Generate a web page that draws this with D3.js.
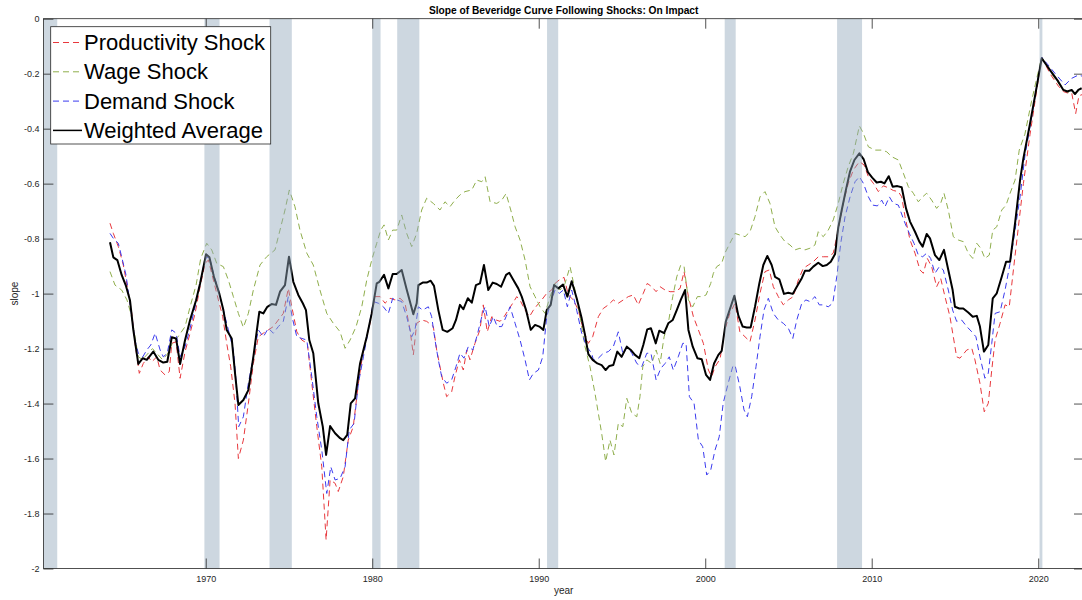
<!DOCTYPE html>
<html>
<head>
<meta charset="utf-8">
<script src="https://cdn.jsdelivr.net/npm/d3@7"></script>
<style>
  body { margin: 0; background: #fff; }
  svg { display: block; font-family: "Liberation Sans", Arial, Helvetica, sans-serif; }
</style>
</head>
<body>
<svg id="chart" width="1082" height="600"></svg>
<script>
// NBER recession periods (start, end) in fractional years
const recessions = [
  [1960.25, 1961.08], [1969.92, 1970.83], [1973.83, 1975.17], [1980.0, 1980.5],
  [1981.5, 1982.83], [1990.5, 1991.17], [2001.17, 2001.83], [2007.92, 2009.42],
  [2020.08, 2020.25]
];

// Slope of the Beveridge curve on impact, [year, slope]
const productivityShock = [
  [1964.25,-0.744],[1964.45,-0.781],[1964.75,-0.829],[1965.05,-0.896],[1965.29,-0.975],[1965.56,-1.072],
  [1965.75,-1.181],[1966.01,-1.29],[1966.25,-1.254],[1966.55,-1.23],[1966.76,-1.248],[1967.06,-1.23],
  [1967.26,-1.278],[1967.56,-1.296],[1967.81,-1.284],[1967.96,-1.181],[1968.22,-1.175],[1968.46,-1.308],
  [1968.76,-1.211],[1969.06,-1.144],[1969.36,-1.072],[1969.66,-0.975],[1969.96,-0.89],[1970.16,-0.878],
  [1970.46,-0.951],[1970.76,-1.023],[1971.02,-1.084],[1971.26,-1.181],[1971.5,-1.266],[1971.76,-1.4],
  [1971.96,-1.6],[1972.26,-1.533],[1972.56,-1.4],[1972.86,-1.254],[1973.16,-1.157],[1973.46,-1.144],
  [1973.76,-1.132],[1974.06,-1.12],[1974.36,-1.096],[1974.66,-1.072],[1974.96,-0.981],[1975.17,-1.048],
  [1975.47,-1.139],[1975.77,-1.169],[1976.1,-1.181],[1976.37,-1.326],[1976.67,-1.484],[1976.97,-1.63],
  [1977.23,-1.896],[1977.47,-1.678],[1977.77,-1.69],[1977.96,-1.72],[1978.26,-1.666],[1978.56,-1.533],
  [1978.86,-1.484],[1979.17,-1.326],[1979.47,-1.205],[1979.87,-1.108],[1980.17,-1.011],[1980.47,-1.011],
  [1980.77,-1.035],[1981.07,-1.017],[1981.37,-1.023],[1981.67,-1.017],[1981.97,-1.035],[1982.27,-1.132],
  [1982.47,-1.223],[1982.67,-1.108],[1982.97,-1.096],[1983.27,-1.101],[1983.67,-1.12],[1983.87,-1.205],
  [1984.07,-1.266],[1984.27,-1.326],[1984.47,-1.375],[1984.77,-1.357],[1984.97,-1.302],[1985.23,-1.241],
  [1985.47,-1.278],[1985.68,-1.205],[1985.87,-1.241],[1986.17,-1.181],[1986.47,-1.132],[1986.67,-1.041],
  [1986.91,-1.139],[1987.18,-1.084],[1987.44,-1.096],[1987.68,-1.101],[1987.92,-1.084],[1988.17,-1.06],
  [1988.44,-1.035],[1988.68,-1.011],[1988.92,-1.029],[1989.18,-1.06],[1989.44,-1.084],[1989.68,-1.06],
  [1989.92,-1.041],[1990.18,-1.023],[1990.48,-0.999],[1990.78,-0.987],[1990.98,-0.963],[1991.28,-0.948],
  [1991.52,-0.941],[1991.78,-1.005],[1992.08,-1.023],[1992.38,-1.06],[1992.68,-1.132],[1992.98,-1.181],
  [1993.24,-1.157],[1993.58,-1.084],[1993.88,-1.054],[1994.18,-1.041],[1994.48,-1.023],[1994.78,-1.035],
  [1995.08,-1.023],[1995.38,-1.011],[1995.68,-1.005],[1995.98,-1.041],[1996.28,-0.999],[1996.52,-0.963],
  [1996.79,-0.975],[1997.05,-0.993],[1997.29,-0.975],[1997.59,-0.987],[1997.89,-0.993],[1998.19,-0.993],
  [1998.49,-0.981],[1998.73,-0.92],[1998.99,-1.011],[1999.29,-1.084],[1999.59,-1.132],[1999.89,-1.181],
  [2000.19,-1.278],[2000.39,-1.302],[2000.59,-1.266],[2000.89,-1.238],[2001.18,-1.132],[2001.48,-1.072],
  [2001.79,-1.035],[2002.08,-1.139],[2002.39,-1.157],[2002.69,-1.175],[2002.99,-1.096],[2003.29,-0.999],
  [2003.59,-0.92],[2003.85,-0.914],[2004.09,-0.975],[2004.39,-1.011],[2004.69,-1.041],[2004.99,-1.023],
  [2005.29,-1.011],[2005.59,-0.951],[2005.89,-0.908],[2006.19,-0.896],[2006.49,-0.884],[2006.79,-0.866],
  [2007.09,-0.866],[2007.39,-0.866],[2007.69,-0.853],[2007.99,-0.769],[2008.29,-0.672],[2008.59,-0.599],
  [2008.9,-0.55],[2009.26,-0.52],[2009.54,-0.532],[2009.8,-0.575],[2010.1,-0.599],[2010.4,-0.629],
  [2010.7,-0.608],[2011.0,-0.615],[2011.3,-0.625],[2011.6,-0.629],[2011.8,-0.648],[2012.0,-0.72],
  [2012.3,-0.805],[2012.6,-0.853],[2012.9,-0.914],[2013.1,-0.926],[2013.34,-0.872],[2013.6,-0.902],
  [2013.9,-0.975],[2014.14,-0.944],[2014.4,-1.011],[2014.7,-1.084],[2014.9,-1.157],[2015.1,-1.23],
  [2015.3,-1.235],[2015.71,-1.205],[2016.01,-1.199],[2016.2,-1.241],[2016.5,-1.326],[2016.76,-1.43],
  [2017.0,-1.399],[2017.21,-1.278],[2017.41,-1.169],[2017.71,-1.108],[2018.01,-1.041],[2018.26,-1.048],
  [2018.51,-0.914],[2018.81,-0.757],[2019.11,-0.6],[2019.51,-0.42],[2019.91,-0.26],[2020.21,-0.14],
  [2020.71,-0.2],[2021.21,-0.245],[2021.51,-0.265],[2021.75,-0.27],[2022.01,-0.27],[2022.25,-0.345],
  [2022.45,-0.28],[2022.7,-0.275]
];

const wageShock = [
  [1964.25,-0.92],[1964.55,-0.969],[1964.95,-0.987],[1965.27,-1.023],[1965.5,-1.072],[1965.65,-1.12],
  [1965.95,-1.23],[1966.2,-1.24],[1966.5,-1.22],[1966.8,-1.2],[1967.1,-1.22],[1967.4,-1.24],
  [1967.7,-1.22],[1968.0,-1.18],[1968.3,-1.16],[1968.76,-1.12],[1969.06,-1.048],[1969.42,-0.969],
  [1969.7,-0.872],[1970.06,-0.817],[1970.36,-0.841],[1970.66,-0.89],[1971.06,-0.902],[1971.36,-0.951],
  [1971.66,-1.011],[1971.96,-1.072],[1972.26,-1.123],[1972.56,-1.072],[1972.86,-0.987],[1973.26,-0.896],
  [1973.66,-0.866],[1974.16,-0.841],[1974.46,-0.769],[1974.76,-0.696],[1975.02,-0.623],[1975.36,-0.684],
  [1975.66,-0.769],[1976.07,-0.853],[1976.46,-0.896],[1976.86,-0.987],[1977.27,-1.072],[1977.66,-1.108],
  [1978.07,-1.139],[1978.37,-1.199],[1978.67,-1.169],[1979.03,-1.12],[1979.37,-1.048],[1979.67,-0.951],
  [1979.97,-0.878],[1980.27,-0.817],[1980.51,-0.769],[1980.71,-0.75],[1980.97,-0.805],[1981.23,-0.769],
  [1981.47,-0.769],[1981.77,-0.714],[1982.07,-0.781],[1982.37,-0.829],[1982.67,-0.781],[1982.97,-0.696],
  [1983.27,-0.653],[1983.67,-0.672],[1984.07,-0.696],[1984.37,-0.666],[1984.67,-0.684],[1984.97,-0.66],
  [1985.27,-0.641],[1985.57,-0.629],[1985.98,-0.623],[1986.28,-0.587],[1986.58,-0.593],[1986.78,-0.575],
  [1987.08,-0.666],[1987.48,-0.672],[1987.78,-0.66],[1988.04,-0.636],[1988.32,-0.696],[1988.58,-0.757],
  [1988.88,-0.805],[1989.18,-0.878],[1989.48,-0.975],[1989.78,-1.011],[1990.08,-1.048],[1990.38,-1.072],
  [1990.68,-1.011],[1990.98,-0.963],[1991.28,-0.987],[1991.58,-0.963],[1991.88,-0.902],[1992.18,-0.987],
  [1992.48,-1.084],[1992.78,-1.193],[1993.08,-1.266],[1993.38,-1.363],[1993.48,-1.399],[1993.78,-1.508],
  [1994.02,-1.611],[1994.28,-1.533],[1994.52,-1.587],[1994.78,-1.472],[1995.05,-1.484],[1995.29,-1.381],
  [1995.59,-1.435],[1995.89,-1.448],[1996.08,-1.375],[1996.25,-1.266],[1996.49,-1.241],[1996.79,-1.254],
  [1997.05,-1.205],[1997.29,-1.254],[1997.53,-1.157],[1997.78,-1.108],[1998.05,-1.011],[1998.29,-0.939],
  [1998.53,-0.896],[1998.73,-0.902],[1998.99,-1.023],[1999.25,-1.048],[1999.53,-1.011],[1999.79,-1.011],
  [2000.05,-1.005],[2000.33,-0.963],[2000.49,-0.926],[2000.69,-0.902],[2000.99,-0.89],[2001.18,-0.853],
  [2001.48,-0.817],[2001.79,-0.781],[2002.08,-0.787],[2002.39,-0.793],[2002.69,-0.775],[2002.99,-0.72],
  [2003.29,-0.648],[2003.59,-0.629],[2003.89,-0.672],[2004.19,-0.757],[2004.49,-0.787],[2004.79,-0.811],
  [2005.09,-0.823],[2005.39,-0.841],[2005.69,-0.835],[2005.99,-0.841],[2006.29,-0.835],[2006.59,-0.823],
  [2006.79,-0.775],[2007.09,-0.793],[2007.39,-0.769],[2007.69,-0.732],[2007.99,-0.672],[2008.29,-0.599],
  [2008.59,-0.538],[2008.9,-0.49],[2009.26,-0.39],[2009.5,-0.417],[2009.8,-0.466],[2010.2,-0.478],
  [2010.6,-0.478],[2010.9,-0.484],[2011.2,-0.502],[2011.6,-0.514],[2011.9,-0.562],[2012.2,-0.611],
  [2012.5,-0.635],[2012.8,-0.666],[2013.06,-0.648],[2013.3,-0.635],[2013.6,-0.66],[2013.9,-0.69],
  [2014.14,-0.672],[2014.34,-0.635],[2014.6,-0.696],[2014.9,-0.793],[2015.2,-0.805],[2015.5,-0.811],
  [2015.8,-0.853],[2016.07,-0.872],[2016.31,-0.817],[2016.55,-0.835],[2016.8,-0.872],[2017.06,-0.86],
  [2017.27,-0.769],[2017.51,-0.757],[2017.81,-0.696],[2018.07,-0.678],[2018.31,-0.635],[2018.61,-0.587],
  [2018.86,-0.478],[2019.2,-0.42],[2019.6,-0.3],[2019.9,-0.22],[2020.21,-0.14],[2020.91,-0.21],
  [2021.51,-0.259],[2022.01,-0.272],[2022.4,-0.265],[2022.7,-0.26]
];

const demandShock = [
  [1964.25,-0.781],[1964.45,-0.799],[1964.75,-0.817],[1964.95,-0.866],[1965.21,-0.932],[1965.45,-1.035],
  [1965.75,-1.169],[1965.95,-1.217],[1966.22,-1.23],[1966.46,-1.205],[1966.7,-1.187],[1966.96,-1.144],
  [1967.26,-1.205],[1967.45,-1.23],[1967.69,-1.217],[1967.96,-1.132],[1968.22,-1.144],[1968.46,-1.23],
  [1968.76,-1.193],[1969.06,-1.126],[1969.36,-1.048],[1969.66,-0.963],[1969.96,-0.872],[1970.22,-0.866],
  [1970.46,-0.926],[1970.76,-0.987],[1971.06,-1.06],[1971.36,-1.132],[1971.66,-1.205],[1971.8,-1.3],
  [1971.98,-1.484],[1972.26,-1.448],[1972.56,-1.326],[1972.86,-1.23],[1973.16,-1.132],[1973.46,-1.157],
  [1973.76,-1.126],[1974.06,-1.144],[1974.36,-1.12],[1974.66,-1.101],[1974.96,-1.011],[1975.23,-1.096],
  [1975.47,-1.157],[1975.77,-1.163],[1976.07,-1.169],[1976.37,-1.302],[1976.67,-1.448],[1976.97,-1.569],
  [1977.27,-1.727],[1977.51,-1.63],[1977.77,-1.678],[1978.07,-1.672],[1978.37,-1.63],[1978.62,-1.496],
  [1978.91,-1.472],[1979.17,-1.326],[1979.47,-1.23],[1979.77,-1.132],[1980.07,-1.029],[1980.37,-1.035],
  [1980.67,-1.048],[1980.97,-1.072],[1981.23,-1.017],[1981.47,-1.023],[1981.77,-1.029],[1982.07,-1.084],
  [1982.37,-1.157],[1982.57,-1.132],[1982.77,-1.048],[1983.03,-1.06],[1983.37,-1.048],[1983.57,-1.084],
  [1983.77,-1.169],[1983.97,-1.241],[1984.17,-1.302],[1984.47,-1.326],[1984.77,-1.314],[1985.03,-1.266],
  [1985.27,-1.217],[1985.51,-1.235],[1985.77,-1.193],[1986.04,-1.205],[1986.28,-1.157],[1986.58,-1.084],
  [1986.78,-1.048],[1987.03,-1.12],[1987.27,-1.084],[1987.51,-1.12],[1987.78,-1.12],[1988.04,-1.084],
  [1988.28,-1.048],[1988.58,-1.108],[1988.88,-1.169],[1989.18,-1.241],[1989.44,-1.314],[1989.68,-1.29],
  [1989.98,-1.278],[1990.24,-1.23],[1990.48,-1.084],[1990.72,-1.035],[1990.98,-0.987],[1991.24,-0.999],
  [1991.48,-0.987],[1991.72,-1.048],[1991.98,-0.987],[1992.28,-1.06],[1992.58,-1.144],[1992.88,-1.193],
  [1993.18,-1.217],[1993.28,-1.241],[1993.58,-1.235],[1993.88,-1.217],[1994.18,-1.211],[1994.48,-1.193],
  [1994.78,-1.139],[1995.05,-1.217],[1995.32,-1.193],[1995.59,-1.217],[1995.89,-1.254],[1996.19,-1.266],
  [1996.49,-1.217],[1996.74,-1.217],[1997.05,-1.314],[1997.33,-1.272],[1997.59,-1.254],[1997.84,-1.23],
  [1998.08,-1.278],[1998.38,-1.23],[1998.65,-1.181],[1998.85,-1.181],[1999.05,-1.375],[1999.33,-1.399],
  [1999.59,-1.533],[1999.85,-1.557],[2000.09,-1.66],[2000.33,-1.642],[2000.59,-1.569],[2000.84,-1.521],
  [2001.08,-1.399],[2001.38,-1.326],[2001.65,-1.266],[2001.79,-1.26],[2002.08,-1.339],[2002.33,-1.423],
  [2002.53,-1.448],[2002.79,-1.375],[2003.05,-1.266],[2003.29,-1.157],[2003.53,-1.06],[2003.79,-1.017],
  [2004.09,-1.072],[2004.39,-1.096],[2004.69,-1.108],[2004.99,-1.126],[2005.26,-1.163],[2005.5,-1.096],
  [2005.8,-1.035],[2006.05,-1.023],[2006.29,-1.029],[2006.59,-1.011],[2006.85,-1.041],[2007.09,-1.041],
  [2007.39,-1.048],[2007.66,-1.035],[2007.9,-0.939],[2008.14,-0.817],[2008.4,-0.72],[2008.7,-0.648],
  [2009.0,-0.593],[2009.26,-0.575],[2009.5,-0.599],[2009.8,-0.648],[2010.06,-0.678],[2010.34,-0.681],
  [2010.6,-0.66],[2010.8,-0.684],[2011.06,-0.648],[2011.3,-0.672],[2011.6,-0.678],[2012.0,-0.744],
  [2012.26,-0.781],[2012.54,-0.817],[2012.8,-0.86],[2013.06,-0.866],[2013.3,-0.853],[2013.54,-0.872],
  [2013.8,-0.926],[2014.06,-0.902],[2014.3,-0.914],[2014.6,-0.987],[2014.86,-1.06],[2015.1,-1.101],
  [2015.4,-1.096],[2015.71,-1.12],[2016.01,-1.139],[2016.26,-1.157],[2016.5,-1.23],[2016.8,-1.308],
  [2017.0,-1.29],[2017.21,-1.181],[2017.41,-1.072],[2017.71,-1.066],[2018.01,-0.987],[2018.31,-0.89],
  [2018.61,-0.769],[2018.91,-0.648],[2019.2,-0.5],[2019.6,-0.36],[2019.9,-0.25],[2020.21,-0.14],
  [2020.51,-0.162],[2021.01,-0.199],[2021.61,-0.241],[2022.01,-0.217],[2022.41,-0.205],[2022.7,-0.21]
];

const weightedAverage = [
  [1964.25,-0.813],[1964.45,-0.868],[1964.69,-0.878],[1964.95,-0.932],[1965.21,-0.972],[1965.45,-1.024],
  [1965.65,-1.132],[1965.95,-1.256],[1966.22,-1.235],[1966.46,-1.241],[1966.85,-1.211],[1967.15,-1.241],
  [1967.45,-1.251],[1967.69,-1.248],[1967.96,-1.159],[1968.22,-1.163],[1968.46,-1.256],[1968.76,-1.169],
  [1969.06,-1.096],[1969.42,-1.024],[1969.66,-0.963],[1970.02,-0.857],[1970.22,-0.868],[1970.5,-0.941],
  [1970.82,-1.001],[1971.06,-1.06],[1971.26,-1.132],[1971.56,-1.163],[1971.76,-1.29],[1971.96,-1.405],
  [1972.26,-1.387],[1972.56,-1.351],[1972.86,-1.23],[1973.22,-1.066],[1973.46,-1.072],[1973.7,-1.048],
  [1973.96,-1.038],[1974.22,-1.041],[1974.46,-0.993],[1974.76,-0.969],[1975.0,-0.866],[1975.26,-0.957],
  [1975.56,-1.005],[1975.83,-1.035],[1976.02,-1.06],[1976.22,-1.169],[1976.46,-1.217],[1976.76,-1.399],
  [1977.03,-1.484],[1977.23,-1.587],[1977.47,-1.482],[1977.77,-1.508],[1978.07,-1.526],[1978.26,-1.533],
  [1978.5,-1.514],[1978.71,-1.399],[1978.97,-1.381],[1979.27,-1.254],[1979.67,-1.157],[1979.97,-1.072],
  [1980.27,-0.963],[1980.43,-0.957],[1980.71,-0.932],[1980.97,-0.981],[1981.23,-0.929],[1981.47,-0.929],
  [1981.77,-0.914],[1982.07,-0.985],[1982.47,-1.075],[1982.67,-1.035],[1982.77,-0.969],[1983.03,-0.96],
  [1983.27,-0.96],[1983.51,-0.953],[1983.71,-0.972],[1983.97,-1.06],[1984.23,-1.132],[1984.51,-1.139],
  [1984.83,-1.126],[1985.03,-1.096],[1985.27,-1.041],[1985.47,-1.057],[1985.74,-1.017],[1985.98,-1.033],
  [1986.23,-0.969],[1986.47,-0.963],[1986.71,-0.896],[1986.97,-0.987],[1987.24,-0.96],[1987.48,-0.965],
  [1987.74,-0.975],[1988.04,-0.932],[1988.23,-0.924],[1988.47,-0.95],[1988.77,-0.981],[1988.98,-1.011],
  [1989.24,-1.06],[1989.52,-1.132],[1989.78,-1.114],[1990.04,-1.12],[1990.28,-1.132],[1990.48,-1.06],
  [1990.72,-1.041],[1990.92,-0.969],[1991.18,-0.981],[1991.46,-0.967],[1991.72,-1.011],[1991.98,-0.955],
  [1992.28,-1.017],[1992.58,-1.09],[1992.78,-1.15],[1992.98,-1.22],[1993.24,-1.241],[1993.52,-1.254],
  [1993.78,-1.26],[1994.02,-1.278],[1994.24,-1.263],[1994.48,-1.26],[1994.72,-1.211],[1994.98,-1.23],
  [1995.29,-1.193],[1995.53,-1.205],[1995.78,-1.223],[1996.04,-1.235],[1996.28,-1.187],[1996.52,-1.13],
  [1996.74,-1.126],[1997.03,-1.181],[1997.24,-1.135],[1997.53,-1.144],[1997.78,-1.108],[1998.05,-1.096],
  [1998.29,-1.06],[1998.53,-1.023],[1998.79,-0.987],[1998.99,-1.132],[1999.25,-1.193],[1999.53,-1.235],
  [1999.79,-1.239],[2000.05,-1.296],[2000.29,-1.314],[2000.53,-1.254],[2000.79,-1.223],[2000.99,-1.208],
  [2001.24,-1.101],[2001.48,-1.057],[2001.75,-1.008],[2001.99,-1.08],[2002.25,-1.12],[2002.49,-1.123],
  [2002.73,-1.123],[2002.99,-1.048],[2003.25,-0.963],[2003.49,-0.896],[2003.73,-0.863],[2003.99,-0.896],
  [2004.19,-0.939],[2004.45,-0.948],[2004.73,-1.001],[2004.99,-0.997],[2005.26,-1.001],[2005.5,-0.975],
  [2005.8,-0.944],[2005.99,-0.917],[2006.25,-0.917],[2006.49,-0.902],[2006.79,-0.888],[2007.06,-0.9],
  [2007.3,-0.896],[2007.54,-0.884],[2007.8,-0.856],[2007.99,-0.76],[2008.2,-0.696],[2008.46,-0.62],
  [2008.7,-0.555],[2008.96,-0.514],[2009.26,-0.49],[2009.52,-0.512],[2009.77,-0.558],[2010.03,-0.578],
  [2010.3,-0.596],[2010.55,-0.593],[2010.77,-0.599],[2011.02,-0.573],[2011.26,-0.611],[2011.54,-0.609],
  [2011.8,-0.613],[2012.06,-0.69],[2012.3,-0.738],[2012.6,-0.775],[2012.86,-0.811],[2013.06,-0.829],
  [2013.3,-0.783],[2013.5,-0.799],[2013.8,-0.86],[2014.06,-0.878],[2014.34,-0.841],[2014.6,-0.914],
  [2014.86,-0.987],[2015.0,-1.048],[2015.26,-1.054],[2015.5,-1.054],[2015.8,-1.069],[2016.07,-1.084],
  [2016.31,-1.081],[2016.5,-1.12],[2016.74,-1.211],[2017.0,-1.187],[2017.27,-1.017],[2017.51,-0.999],
  [2017.81,-0.939],[2018.07,-0.884],[2018.31,-0.884],[2018.61,-0.744],[2018.91,-0.587],[2019.11,-0.508],
  [2019.51,-0.381],[2019.91,-0.247],[2020.21,-0.144],[2020.71,-0.187],[2021.21,-0.229],[2021.51,-0.259],
  [2021.75,-0.265],[2022.01,-0.259],[2022.21,-0.274],[2022.41,-0.259],[2022.61,-0.253]
];

const seriesNames = ["Productivity Shock", "Wage Shock", "Demand Shock", "Weighted Average"];
const xTickValues = [1970, 1980, 1990, 2000, 2010, 2020];
const yTickValues = [0, -0.2, -0.4, -0.6, -0.8, -1, -1.2, -1.4, -1.6, -1.8, -2];

const series = [
  { name: seriesNames[0], data: productivityShock, color: "#e8383d", width: 1, dash: "6,4" },
  { name: seriesNames[1], data: wageShock,         color: "#8fae4c", width: 1, dash: "6,4" },
  { name: seriesNames[2], data: demandShock,       color: "#3b3bef", width: 1, dash: "6,4" },
  { name: seriesNames[3], data: weightedAverage,   color: "#000000", width: 2, dash: null }
];

const svg = d3.select("#chart");
const plot = { left: 43.4, right: 1084, top: 18.7, bottom: 568.5 };
const axisColor = "#262626";

const x = d3.scaleLinear().domain([1960.25, 2022.75]).range([plot.left, plot.right]);
const y = d3.scaleLinear().domain([-2, 0]).range([plot.bottom, plot.top]);

// Data lines
const line = d3.line().x(d => x(d[0])).y(d => y(d[1]));
svg.append("g").selectAll("path").data(series).join("path")
  .attr("d", s => line(s.data))
  .attr("fill", "none")
  .attr("stroke", s => s.color)
  .attr("stroke-width", s => s.width)
  .attr("stroke-dasharray", s => s.dash)
  .attr("stroke-linejoin", "round");

// Recession shading (translucent, over the lines)
svg.append("g").selectAll("rect").data(recessions).join("rect")
  .attr("x", d => x(d[0]))
  .attr("y", plot.top)
  .attr("width", d => x(d[1]) - x(d[0]))
  .attr("height", plot.bottom - plot.top)
  .attr("fill", "#92a7bc")
  .attr("fill-opacity", 0.46);

// Axes with inward ticks on all four sides
const fmtY = d => String(Math.round(d * 10) / 10);
const tickFont = 9;

const gx = svg.append("g").attr("transform", `translate(0,${plot.bottom})`)
  .call(d3.axisBottom(x).tickValues(xTickValues).tickFormat(d3.format("d")).tickSize(-10).tickPadding(7));
const gxTop = svg.append("g").attr("transform", `translate(0,${plot.top})`)
  .call(d3.axisTop(x).tickValues(xTickValues).tickFormat("").tickSize(-10));
const gy = svg.append("g").attr("transform", `translate(${plot.left},0)`)
  .call(d3.axisLeft(y).tickValues(yTickValues).tickFormat(fmtY).tickSize(-10).tickPadding(4));
const gyRight = svg.append("g").attr("transform", `translate(${plot.right},0)`)
  .call(d3.axisRight(y).tickValues(yTickValues).tickFormat("").tickSize(-10));

[gx, gxTop, gy, gyRight].forEach(g => {
  g.select(".domain").remove();
  g.selectAll(".tick line").attr("stroke", axisColor).attr("stroke-width", 0.8);
  g.selectAll(".tick text").attr("fill", axisColor).attr("font-size", tickFont)
    .attr("font-family", '"Liberation Sans", Arial, sans-serif');
});

// Axes box
svg.append("rect")
  .attr("x", plot.left).attr("y", plot.top)
  .attr("width", plot.right - plot.left).attr("height", plot.bottom - plot.top)
  .attr("fill", "none").attr("stroke", axisColor).attr("stroke-width", 0.8);

// Title and axis labels
svg.append("text")
  .attr("x", (plot.left + plot.right) / 2).attr("y", 13.5)
  .attr("text-anchor", "middle").attr("font-size", 10.2).attr("font-weight", "bold")
  .attr("fill", "#000")
  .text("Slope of Beveridge Curve Following Shocks: On Impact");

svg.append("text")
  .attr("x", (plot.left + plot.right) / 2).attr("y", 594)
  .attr("text-anchor", "middle").attr("font-size", 10).attr("fill", axisColor)
  .text("year");

svg.append("text")
  .attr("transform", `translate(18,${(plot.top + plot.bottom) / 2}) rotate(-90)`)
  .attr("text-anchor", "middle").attr("font-size", 10).attr("fill", axisColor)
  .text("slope");

// Legend
const legend = svg.append("g");
legend.append("rect")
  .attr("x", 50.7).attr("y", 26.7).attr("width", 220).attr("height", 117.3)
  .attr("fill", "#fff").attr("stroke", axisColor).attr("stroke-width", 0.8);

const rows = legend.selectAll("g.row").data(series).join("g")
  .attr("class", "row")
  .attr("transform", (d, i) => `translate(0,${50 + i * 29.3})`);
rows.append("line")
  .attr("x1", 53).attr("x2", 82).attr("y1", -7.5).attr("y2", -7.5)
  .attr("stroke", d => d.color)
  .attr("stroke-width", d => d.dash ? 1 : 1.5)
  .attr("stroke-dasharray", d => d.dash);
rows.append("text")
  .attr("x", 84).attr("y", 0)
  .attr("font-size", 22).attr("fill", "#000")
  .text(d => d.name);
</script>
</body>
</html>
